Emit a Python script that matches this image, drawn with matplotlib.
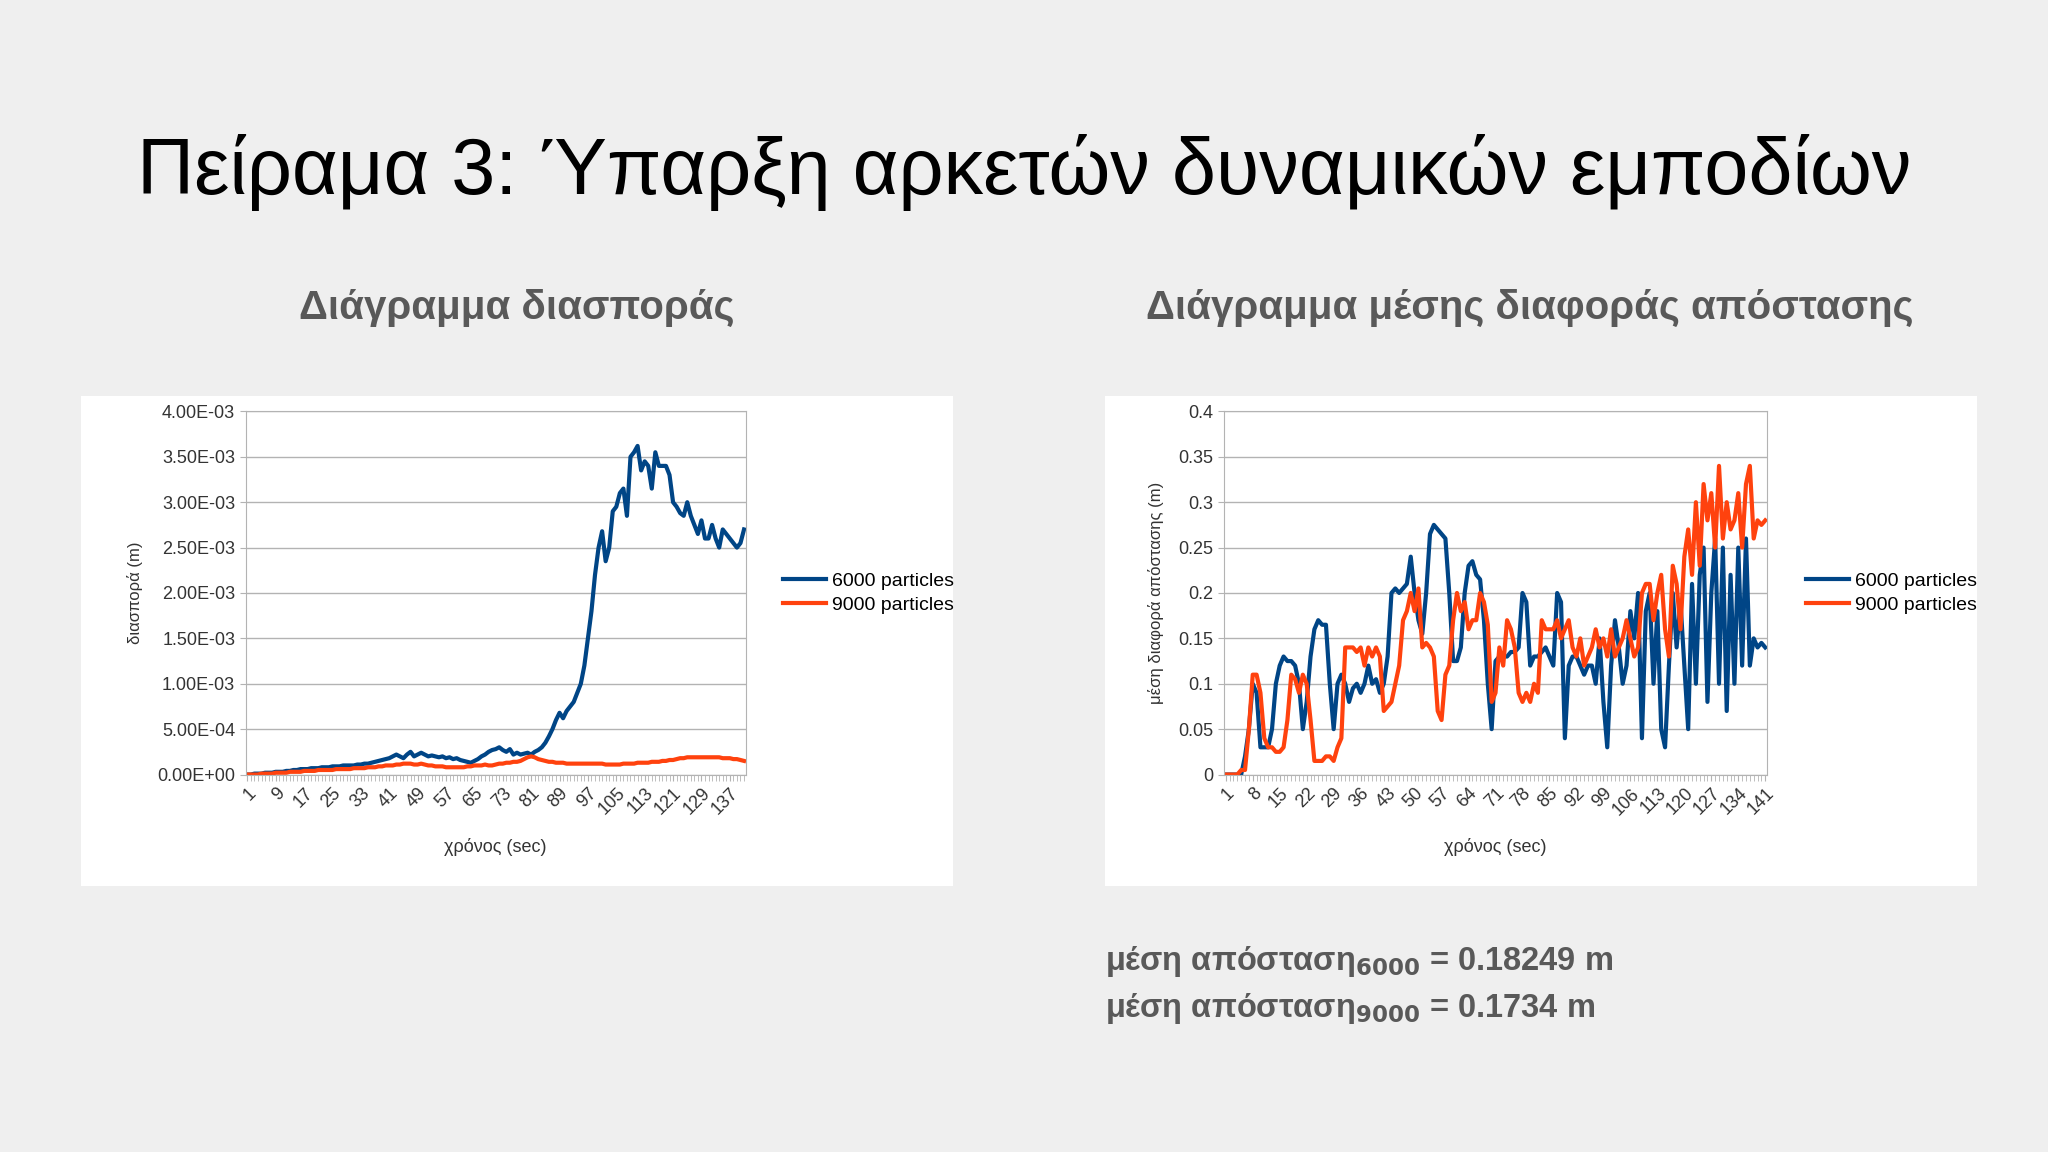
import matplotlib
matplotlib.use("Agg")
import matplotlib.pyplot as plt
import numpy as np
from matplotlib.patches import Rectangle

plt.rcParams['font.family'] = ['Liberation Sans', 'DejaVu Sans']

title = "Πείραμα 3: Ύπαρξη αρκετών δυναμικών εμποδίων"
sub_left = "Διάγραμμα διασποράς"
sub_right = "Διάγραμμα μέσης διαφοράς απόστασης"
labels = ["6000 particles", "9000 particles"]

# Left chart: variance (units 1e-3 m)
var_6000 = [0.0,0.0,0.01,0.01,0.01,0.02,0.02,0.02,0.03,0.03,
            0.03,0.04,0.04,0.05,0.05,0.06,0.06,0.06,0.07,0.07,
            0.07,0.08,0.08,0.08,0.09,0.09,0.09,0.1,0.1,0.1,
            0.1,0.11,0.11,0.12,0.12,0.13,0.14,0.15,0.16,0.17,
            0.18,0.2,0.22,0.2,0.18,0.22,0.25,0.2,0.22,0.24,
            0.22,0.2,0.21,0.2,0.19,0.2,0.18,0.19,0.17,0.18,
            0.16,0.15,0.14,0.13,0.15,0.17,0.2,0.22,0.25,0.27,
            0.28,0.3,0.27,0.25,0.28,0.22,0.24,0.22,0.23,0.24,
            0.22,0.25,0.27,0.3,0.35,0.42,0.5,0.6,0.68,0.62,
            0.7,0.75,0.8,0.9,1.0,1.2,1.5,1.8,2.2,2.5,
            2.68,2.35,2.5,2.9,2.95,3.1,3.15,2.85,3.5,3.55,
            3.62,3.35,3.45,3.4,3.15,3.55,3.4,3.4,3.4,3.3,
            3.0,2.95,2.88,2.85,3.0,2.85,2.75,2.65,2.8,2.6,
            2.6,2.75,2.6,2.5,2.7,2.65,2.6,2.55,2.5,2.55,2.7]
var_9000 = [0.0,0.0,0.0,0.0,0.01,0.01,0.01,0.01,0.02,0.02,
            0.02,0.02,0.03,0.03,0.03,0.03,0.04,0.04,0.04,0.04,
            0.05,0.05,0.05,0.05,0.05,0.06,0.06,0.06,0.06,0.06,
            0.07,0.07,0.07,0.07,0.08,0.08,0.08,0.09,0.09,0.1,
            0.1,0.1,0.11,0.11,0.12,0.12,0.12,0.11,0.11,0.12,
            0.11,0.1,0.1,0.09,0.09,0.09,0.08,0.08,0.08,0.08,
            0.08,0.08,0.09,0.09,0.1,0.1,0.1,0.11,0.1,0.1,
            0.11,0.12,0.12,0.13,0.13,0.14,0.14,0.15,0.17,0.19,
            0.2,0.19,0.17,0.16,0.15,0.14,0.14,0.13,0.13,0.13,
            0.12,0.12,0.12,0.12,0.12,0.12,0.12,0.12,0.12,0.12,
            0.12,0.11,0.11,0.11,0.11,0.11,0.12,0.12,0.12,0.12,
            0.13,0.13,0.13,0.13,0.14,0.14,0.14,0.15,0.15,0.16,
            0.16,0.17,0.18,0.18,0.19,0.19,0.19,0.19,0.19,0.19,
            0.19,0.19,0.19,0.19,0.18,0.18,0.18,0.17,0.17,0.16,0.15]

# Right chart: mean distance difference (m)
dist_6000 = [0,0,0,0,0,0.02,0.05,0.1,0.09,0.03,
             0.03,0.03,0.05,0.1,0.12,0.13,0.125,0.125,0.12,0.1,
             0.05,0.08,0.13,0.16,0.17,0.165,0.165,0.1,0.05,0.1,
             0.11,0.1,0.08,0.095,0.1,0.09,0.1,0.12,0.1,0.105,
             0.09,0.1,0.13,0.2,0.205,0.2,0.205,0.21,0.24,0.2,
             0.17,0.155,0.2,0.265,0.275,0.27,0.265,0.26,0.2,0.125,
             0.125,0.14,0.2,0.23,0.235,0.22,0.215,0.17,0.1,0.05,
             0.125,0.13,0.13,0.13,0.135,0.135,0.14,0.2,0.19,0.12,
             0.13,0.13,0.135,0.14,0.13,0.12,0.2,0.19,0.04,0.12,
             0.13,0.13,0.12,0.11,0.12,0.12,0.1,0.15,0.08,0.03,
             0.12,0.17,0.14,0.1,0.12,0.18,0.15,0.2,0.04,0.18,
             0.2,0.1,0.18,0.05,0.03,0.12,0.2,0.14,0.19,0.12,
             0.05,0.21,0.1,0.22,0.25,0.08,0.2,0.26,0.1,0.25,
             0.07,0.22,0.1,0.25,0.12,0.26,0.12,0.15,0.14,0.145,0.14]
dist_9000 = [0,0,0,0,0.005,0.005,0.05,0.11,0.11,0.09,
             0.04,0.03,0.03,0.025,0.025,0.03,0.06,0.11,0.105,0.09,
             0.11,0.1,0.06,0.015,0.015,0.015,0.02,0.02,0.015,0.03,
             0.04,0.14,0.14,0.14,0.135,0.14,0.12,0.14,0.13,0.14,
             0.13,0.07,0.075,0.08,0.1,0.12,0.17,0.18,0.2,0.18,
             0.205,0.14,0.145,0.14,0.13,0.07,0.06,0.11,0.12,0.17,
             0.2,0.18,0.19,0.16,0.17,0.17,0.2,0.19,0.165,0.08,
             0.09,0.14,0.12,0.17,0.16,0.14,0.09,0.08,0.09,0.08,
             0.1,0.09,0.17,0.16,0.16,0.16,0.17,0.15,0.16,0.17,
             0.14,0.13,0.15,0.12,0.13,0.14,0.16,0.14,0.15,0.13,
             0.16,0.13,0.14,0.15,0.17,0.15,0.13,0.14,0.2,0.21,
             0.21,0.17,0.2,0.22,0.16,0.13,0.23,0.21,0.16,0.24,
             0.27,0.22,0.3,0.23,0.32,0.28,0.31,0.25,0.34,0.26,
             0.3,0.27,0.28,0.31,0.25,0.32,0.34,0.26,0.28,0.275,0.28]

mean_lines = [r"μέση απόσταση$_{\mathbf{6000}}$ = 0.18249 m",
              r"μέση απόσταση$_{\mathbf{9000}}$ = 0.1734 m"]

BLUE = "#004586"
ORANGE = "#ff420e"
GREY = "#595959"

fig = plt.figure(figsize=(20.48, 11.52), dpi=100)
fig.patch.set_facecolor("#efefef")

W, H = 1568, 882
def fx(x): return x / W
def fy(y): return 1 - y / H

for x0 in (62, 846):
    bg = fig.add_axes([fx(x0), fy(678), fx(668), 375 / H], zorder=0)
    bg.set_facecolor("white")
    bg.set_xticks([]); bg.set_yticks([])
    for s in bg.spines.values():
        s.set_visible(False)

fig.text(fx(784), fy(132), title, ha="center", va="center", fontsize=57, color="black")
fig.text(fx(396), fy(236), sub_left, ha="center", va="center", fontsize=29,
         fontweight="bold", color=GREY)
fig.text(fx(1171), fy(236), sub_right, ha="center", va="center", fontsize=29,
         fontweight="bold", color=GREY)

def style(ax, n, step, ylabel):
    x = np.arange(1, n + 1)
    ax.set_xlim(0.5, n + 0.5)
    ax.set_xticks(x, minor=True)
    ticks = x[::step]
    ax.set_xticks(ticks)
    ax.set_xticklabels([str(t) for t in ticks], rotation=45, ha="right",
                       rotation_mode="anchor", fontsize=13, color="#333333")
    ax.tick_params(axis="x", which="both", length=4, color="#b3b3b3")
    ax.tick_params(axis="y", length=4, color="#b3b3b3", labelsize=13, labelcolor="#333333")
    ax.grid(axis="y", color="#b3b3b3", linewidth=1)
    ax.set_axisbelow(True)
    for s in ax.spines.values():
        s.set_color("#b3b3b3")
    ax.set_xlabel("χρόνος (sec)", fontsize=13, color="#333333", labelpad=14)
    ax.set_ylabel(ylabel, fontsize=12, color="#333333", labelpad=10)
    ax.legend(labels, loc="center left", bbox_to_anchor=(1.04, 0.5), frameon=False,
              fontsize=14, handlelength=2.2, handletextpad=0.3, labelspacing=0.3)

# left chart
axL = fig.add_axes([fx(188), fy(593), fx(383), 278 / H], zorder=2)
xL = np.arange(1, len(var_6000) + 1)
axL.plot(xL, np.array(var_6000) * 1e-3, color=BLUE, lw=3)
axL.plot(xL, np.array(var_9000) * 1e-3, color=ORANGE, lw=3)
axL.set_ylim(0, 4e-3)
yt = np.arange(0, 4.01e-3, 0.5e-3)
axL.set_yticks(yt)
axL.set_yticklabels([f"{v:.2E}" for v in yt])
style(axL, len(var_6000), 8, "διασπορά (m)")

# right chart
axR = fig.add_axes([fx(937), fy(593), fx(416), 278 / H], zorder=2)
xR = np.arange(1, len(dist_6000) + 1)
axR.plot(xR, dist_6000, color=BLUE, lw=3)
axR.plot(xR, dist_9000, color=ORANGE, lw=3)
axR.set_ylim(0, 0.4)
yr = [0, 0.05, 0.1, 0.15, 0.2, 0.25, 0.3, 0.35, 0.4]
axR.set_yticks(yr)
axR.set_yticklabels(["0", "0.05", "0.1", "0.15", "0.2", "0.25", "0.3", "0.35", "0.4"])
style(axR, len(dist_6000), 7, "μέση διαφορά απόστασης (m)")

fig.text(fx(846), fy(736), mean_lines[0], ha="left", va="center", fontsize=23.5,
         fontweight="bold", color=GREY)
fig.text(fx(846), fy(772), mean_lines[1], ha="left", va="center", fontsize=23.5,
         fontweight="bold", color=GREY)

fig.savefig("out.png", dpi=100, facecolor=fig.get_facecolor())
